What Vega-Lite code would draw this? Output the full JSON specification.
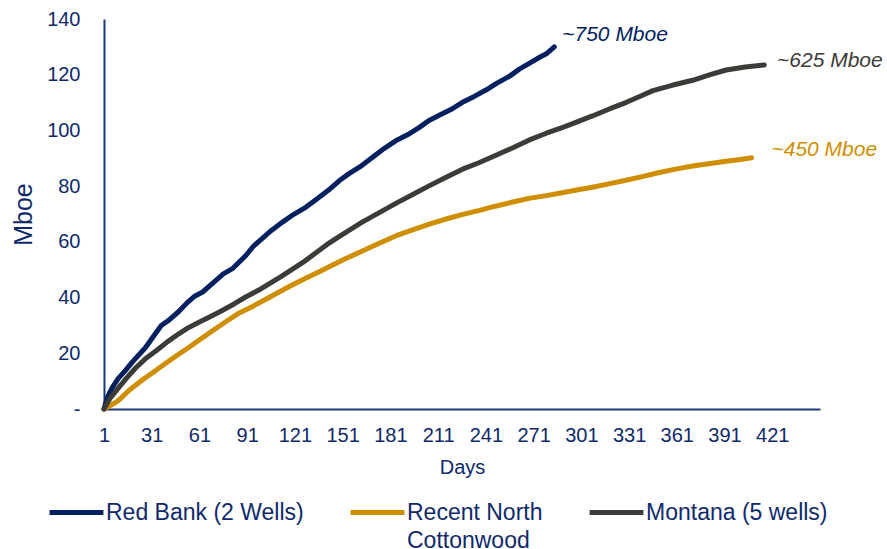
{
  "$schema": "https://vega.github.io/schema/vega-lite/v6.json",
  "width": 716,
  "height": 390,
  "autosize": {"type": "none"},
  "padding": {"left": 104, "top": 19, "right": 67, "bottom": 140},
  "background": "white",
  "config": {
    "view": {"stroke": null},
    "font": "Liberation Sans"
  },
  "datasets": {
    "curves": [
      {"series": "Red Bank (2 Wells)", "day": 1, "mboe": 0},
      {"series": "Red Bank (2 Wells)", "day": 3, "mboe": 4},
      {"series": "Red Bank (2 Wells)", "day": 6, "mboe": 7.5},
      {"series": "Red Bank (2 Wells)", "day": 10, "mboe": 11},
      {"series": "Red Bank (2 Wells)", "day": 14, "mboe": 13.5},
      {"series": "Red Bank (2 Wells)", "day": 19, "mboe": 17},
      {"series": "Red Bank (2 Wells)", "day": 27, "mboe": 22},
      {"series": "Red Bank (2 Wells)", "day": 32, "mboe": 26},
      {"series": "Red Bank (2 Wells)", "day": 37, "mboe": 30},
      {"series": "Red Bank (2 Wells)", "day": 42, "mboe": 32},
      {"series": "Red Bank (2 Wells)", "day": 48, "mboe": 35},
      {"series": "Red Bank (2 Wells)", "day": 53, "mboe": 38},
      {"series": "Red Bank (2 Wells)", "day": 58, "mboe": 40.5},
      {"series": "Red Bank (2 Wells)", "day": 63, "mboe": 42},
      {"series": "Red Bank (2 Wells)", "day": 71, "mboe": 46},
      {"series": "Red Bank (2 Wells)", "day": 76, "mboe": 48.5},
      {"series": "Red Bank (2 Wells)", "day": 82, "mboe": 50.5},
      {"series": "Red Bank (2 Wells)", "day": 90, "mboe": 55},
      {"series": "Red Bank (2 Wells)", "day": 95, "mboe": 58.5},
      {"series": "Red Bank (2 Wells)", "day": 100, "mboe": 61},
      {"series": "Red Bank (2 Wells)", "day": 106, "mboe": 64},
      {"series": "Red Bank (2 Wells)", "day": 113, "mboe": 67},
      {"series": "Red Bank (2 Wells)", "day": 120, "mboe": 69.8},
      {"series": "Red Bank (2 Wells)", "day": 128, "mboe": 72.5},
      {"series": "Red Bank (2 Wells)", "day": 135, "mboe": 75.5},
      {"series": "Red Bank (2 Wells)", "day": 143, "mboe": 79},
      {"series": "Red Bank (2 Wells)", "day": 149, "mboe": 82},
      {"series": "Red Bank (2 Wells)", "day": 155, "mboe": 84.5},
      {"series": "Red Bank (2 Wells)", "day": 162, "mboe": 87},
      {"series": "Red Bank (2 Wells)", "day": 170, "mboe": 90.5},
      {"series": "Red Bank (2 Wells)", "day": 177, "mboe": 93.5},
      {"series": "Red Bank (2 Wells)", "day": 185, "mboe": 96.5},
      {"series": "Red Bank (2 Wells)", "day": 192, "mboe": 98.5},
      {"series": "Red Bank (2 Wells)", "day": 199, "mboe": 101},
      {"series": "Red Bank (2 Wells)", "day": 205, "mboe": 103.5},
      {"series": "Red Bank (2 Wells)", "day": 212, "mboe": 105.5},
      {"series": "Red Bank (2 Wells)", "day": 219, "mboe": 107.5},
      {"series": "Red Bank (2 Wells)", "day": 226, "mboe": 110},
      {"series": "Red Bank (2 Wells)", "day": 234, "mboe": 112.3},
      {"series": "Red Bank (2 Wells)", "day": 241, "mboe": 114.5},
      {"series": "Red Bank (2 Wells)", "day": 248, "mboe": 117},
      {"series": "Red Bank (2 Wells)", "day": 256, "mboe": 119.5},
      {"series": "Red Bank (2 Wells)", "day": 262, "mboe": 122},
      {"series": "Red Bank (2 Wells)", "day": 268, "mboe": 124},
      {"series": "Red Bank (2 Wells)", "day": 274, "mboe": 126},
      {"series": "Red Bank (2 Wells)", "day": 279, "mboe": 127.5},
      {"series": "Red Bank (2 Wells)", "day": 284, "mboe": 130},
      {"series": "Recent North Cottonwood", "day": 1, "mboe": 0},
      {"series": "Recent North Cottonwood", "day": 5, "mboe": 1.2},
      {"series": "Recent North Cottonwood", "day": 10, "mboe": 3},
      {"series": "Recent North Cottonwood", "day": 17, "mboe": 6.8},
      {"series": "Recent North Cottonwood", "day": 25, "mboe": 10.4},
      {"series": "Recent North Cottonwood", "day": 32, "mboe": 13.2},
      {"series": "Recent North Cottonwood", "day": 40, "mboe": 16.5},
      {"series": "Recent North Cottonwood", "day": 47, "mboe": 19.3},
      {"series": "Recent North Cottonwood", "day": 54, "mboe": 22},
      {"series": "Recent North Cottonwood", "day": 62, "mboe": 25.2},
      {"series": "Recent North Cottonwood", "day": 69, "mboe": 28},
      {"series": "Recent North Cottonwood", "day": 78, "mboe": 31.5},
      {"series": "Recent North Cottonwood", "day": 86, "mboe": 34.5},
      {"series": "Recent North Cottonwood", "day": 95, "mboe": 37},
      {"series": "Recent North Cottonwood", "day": 103, "mboe": 39.5},
      {"series": "Recent North Cottonwood", "day": 111, "mboe": 42},
      {"series": "Recent North Cottonwood", "day": 119, "mboe": 44.4},
      {"series": "Recent North Cottonwood", "day": 128, "mboe": 47},
      {"series": "Recent North Cottonwood", "day": 136, "mboe": 49.2},
      {"series": "Recent North Cottonwood", "day": 145, "mboe": 51.8},
      {"series": "Recent North Cottonwood", "day": 153, "mboe": 54},
      {"series": "Recent North Cottonwood", "day": 163, "mboe": 56.6},
      {"series": "Recent North Cottonwood", "day": 174, "mboe": 59.5},
      {"series": "Recent North Cottonwood", "day": 185, "mboe": 62.3},
      {"series": "Recent North Cottonwood", "day": 195, "mboe": 64.3},
      {"series": "Recent North Cottonwood", "day": 205, "mboe": 66.3},
      {"series": "Recent North Cottonwood", "day": 216, "mboe": 68.2},
      {"series": "Recent North Cottonwood", "day": 226, "mboe": 69.8},
      {"series": "Recent North Cottonwood", "day": 237, "mboe": 71.3},
      {"series": "Recent North Cottonwood", "day": 247, "mboe": 72.8},
      {"series": "Recent North Cottonwood", "day": 258, "mboe": 74.3},
      {"series": "Recent North Cottonwood", "day": 268, "mboe": 75.6},
      {"series": "Recent North Cottonwood", "day": 279, "mboe": 76.6},
      {"series": "Recent North Cottonwood", "day": 289, "mboe": 77.6},
      {"series": "Recent North Cottonwood", "day": 298, "mboe": 78.6},
      {"series": "Recent North Cottonwood", "day": 308, "mboe": 79.6},
      {"series": "Recent North Cottonwood", "day": 319, "mboe": 80.9},
      {"series": "Recent North Cottonwood", "day": 329, "mboe": 82.1},
      {"series": "Recent North Cottonwood", "day": 340, "mboe": 83.5},
      {"series": "Recent North Cottonwood", "day": 350, "mboe": 84.9},
      {"series": "Recent North Cottonwood", "day": 361, "mboe": 86.2},
      {"series": "Recent North Cottonwood", "day": 371, "mboe": 87.2},
      {"series": "Recent North Cottonwood", "day": 382, "mboe": 88.1},
      {"series": "Recent North Cottonwood", "day": 392, "mboe": 88.9},
      {"series": "Recent North Cottonwood", "day": 400, "mboe": 89.5},
      {"series": "Recent North Cottonwood", "day": 408, "mboe": 90.2},
      {"series": "Montana (5 wells)", "day": 1, "mboe": 0},
      {"series": "Montana (5 wells)", "day": 5, "mboe": 4},
      {"series": "Montana (5 wells)", "day": 10, "mboe": 7.5},
      {"series": "Montana (5 wells)", "day": 15, "mboe": 11},
      {"series": "Montana (5 wells)", "day": 21, "mboe": 14.8},
      {"series": "Montana (5 wells)", "day": 27, "mboe": 18},
      {"series": "Montana (5 wells)", "day": 34, "mboe": 21},
      {"series": "Montana (5 wells)", "day": 41, "mboe": 24.2},
      {"series": "Montana (5 wells)", "day": 48, "mboe": 27},
      {"series": "Montana (5 wells)", "day": 54, "mboe": 29.2},
      {"series": "Montana (5 wells)", "day": 61, "mboe": 31.2},
      {"series": "Montana (5 wells)", "day": 68, "mboe": 33.2},
      {"series": "Montana (5 wells)", "day": 75, "mboe": 35.3},
      {"series": "Montana (5 wells)", "day": 83, "mboe": 37.8},
      {"series": "Montana (5 wells)", "day": 90, "mboe": 40.2},
      {"series": "Montana (5 wells)", "day": 98, "mboe": 42.6},
      {"series": "Montana (5 wells)", "day": 105, "mboe": 45},
      {"series": "Montana (5 wells)", "day": 112, "mboe": 47.4},
      {"series": "Montana (5 wells)", "day": 119, "mboe": 50},
      {"series": "Montana (5 wells)", "day": 127, "mboe": 53},
      {"series": "Montana (5 wells)", "day": 134, "mboe": 56},
      {"series": "Montana (5 wells)", "day": 141, "mboe": 59},
      {"series": "Montana (5 wells)", "day": 149, "mboe": 62},
      {"series": "Montana (5 wells)", "day": 156, "mboe": 64.5},
      {"series": "Montana (5 wells)", "day": 163, "mboe": 67},
      {"series": "Montana (5 wells)", "day": 174, "mboe": 70.5},
      {"series": "Montana (5 wells)", "day": 185, "mboe": 74},
      {"series": "Montana (5 wells)", "day": 195, "mboe": 77},
      {"series": "Montana (5 wells)", "day": 205, "mboe": 80},
      {"series": "Montana (5 wells)", "day": 216, "mboe": 83.2},
      {"series": "Montana (5 wells)", "day": 226, "mboe": 86},
      {"series": "Montana (5 wells)", "day": 237, "mboe": 88.5},
      {"series": "Montana (5 wells)", "day": 247, "mboe": 91},
      {"series": "Montana (5 wells)", "day": 258, "mboe": 93.8},
      {"series": "Montana (5 wells)", "day": 268, "mboe": 96.5},
      {"series": "Montana (5 wells)", "day": 279, "mboe": 99},
      {"series": "Montana (5 wells)", "day": 289, "mboe": 101},
      {"series": "Montana (5 wells)", "day": 298, "mboe": 103},
      {"series": "Montana (5 wells)", "day": 308, "mboe": 105.2},
      {"series": "Montana (5 wells)", "day": 319, "mboe": 107.8},
      {"series": "Montana (5 wells)", "day": 329, "mboe": 110},
      {"series": "Montana (5 wells)", "day": 338, "mboe": 112.3},
      {"series": "Montana (5 wells)", "day": 346, "mboe": 114.3},
      {"series": "Montana (5 wells)", "day": 358, "mboe": 116.2},
      {"series": "Montana (5 wells)", "day": 371, "mboe": 118},
      {"series": "Montana (5 wells)", "day": 382, "mboe": 120},
      {"series": "Montana (5 wells)", "day": 392, "mboe": 121.7},
      {"series": "Montana (5 wells)", "day": 404, "mboe": 122.8},
      {"series": "Montana (5 wells)", "day": 416, "mboe": 123.5}
    ],
    "notes": [
      {"series": "Red Bank (2 Wells)", "day": 289, "mboe": 134.2, "note": "~750 Mboe"},
      {"series": "Montana (5 wells)", "day": 424, "mboe": 124.9, "note": "~625 Mboe"},
      {"series": "Recent North Cottonwood", "day": 420.5, "mboe": 93, "note": "~450 Mboe"}
    ]
  },
  "layer": [
    {
      "data": {"name": "curves"},
      "mark": {"type": "line", "strokeWidth": 5, "strokeCap": "round", "strokeJoin": "round"},
      "encoding": {
        "x": {
          "field": "day", "type": "quantitative",
          "scale": {"domain": [1, 451], "nice": false, "zero": false},
          "axis": {
            "title": "Days",
            "titleFont": "Liberation Sans", "titleFontSize": 20, "titleFontWeight": "normal", "titleColor": "#10296b",
            "titlePadding": 12,
            "values": [1, 31, 61, 91, 121, 151, 181, 211, 241, 271, 301, 331, 361, 391, 421],
            "labelFont": "Liberation Sans", "labelFontSize": 20, "labelColor": "#10296b",
            "labelPadding": 16, "ticks": false, "grid": false,
            "domainColor": "#1a3a7a", "domainWidth": 2, "labelFlush": false
          }
        },
        "y": {
          "field": "mboe", "type": "quantitative",
          "scale": {"domain": [0, 140], "nice": false},
          "axis": {
            "title": "Mboe",
            "titleFont": "Liberation Sans", "titleFontSize": 25, "titleFontWeight": "normal", "titleColor": "#10296b",
            "titlePadding": 10,
            "values": [0, 20, 40, 60, 80, 100, 120, 140],
            "labelExpr": "datum.value == 0 ? '-' : datum.label",
            "labelFont": "Liberation Sans", "labelFontSize": 20, "labelColor": "#10296b",
            "labelPadding": 24, "ticks": false, "grid": false,
            "domainColor": "#1a3a7a", "domainWidth": 2
          }
        },
        "color": {
          "field": "series", "type": "nominal",
          "scale": {
            "domain": ["Red Bank (2 Wells)", "Recent North Cottonwood", "Montana (5 wells)"],
            "range": ["#002060", "#CF8E00", "#3D3B37"]
          },
          "legend": {
            "title": null,
            "orient": "none",
            "legendX": -57,
            "legendY": 464,
            "direction": "horizontal",
            "symbolType": "stroke",
            "symbolSize": 2900,
            "symbolStrokeWidth": 5,
            "labelFont": "Liberation Sans",
            "labelFontSize": 23,
            "labelColor": "#10296b",
            "labelOffset": 0,
            "labelLimit": 400,
            "columnPadding": 36,
            "gridAlign": "none",
            "labelExpr": "datum.label == 'Recent North Cottonwood' ? ['Recent North', 'Cottonwood'] : datum.label",
            "encode": {"labels": {"update": {"lineHeight": {"value": 28}}}}
          }
        }
      }
    },
    {
      "data": {"name": "notes"},
      "mark": {"type": "text", "align": "left", "baseline": "middle", "fontStyle": "italic", "fontSize": 21, "font": "Liberation Sans"},
      "encoding": {
        "x": {"field": "day", "type": "quantitative"},
        "y": {"field": "mboe", "type": "quantitative"},
        "text": {"field": "note"},
        "color": {"field": "series", "type": "nominal"}
      }
    }
  ]
}
